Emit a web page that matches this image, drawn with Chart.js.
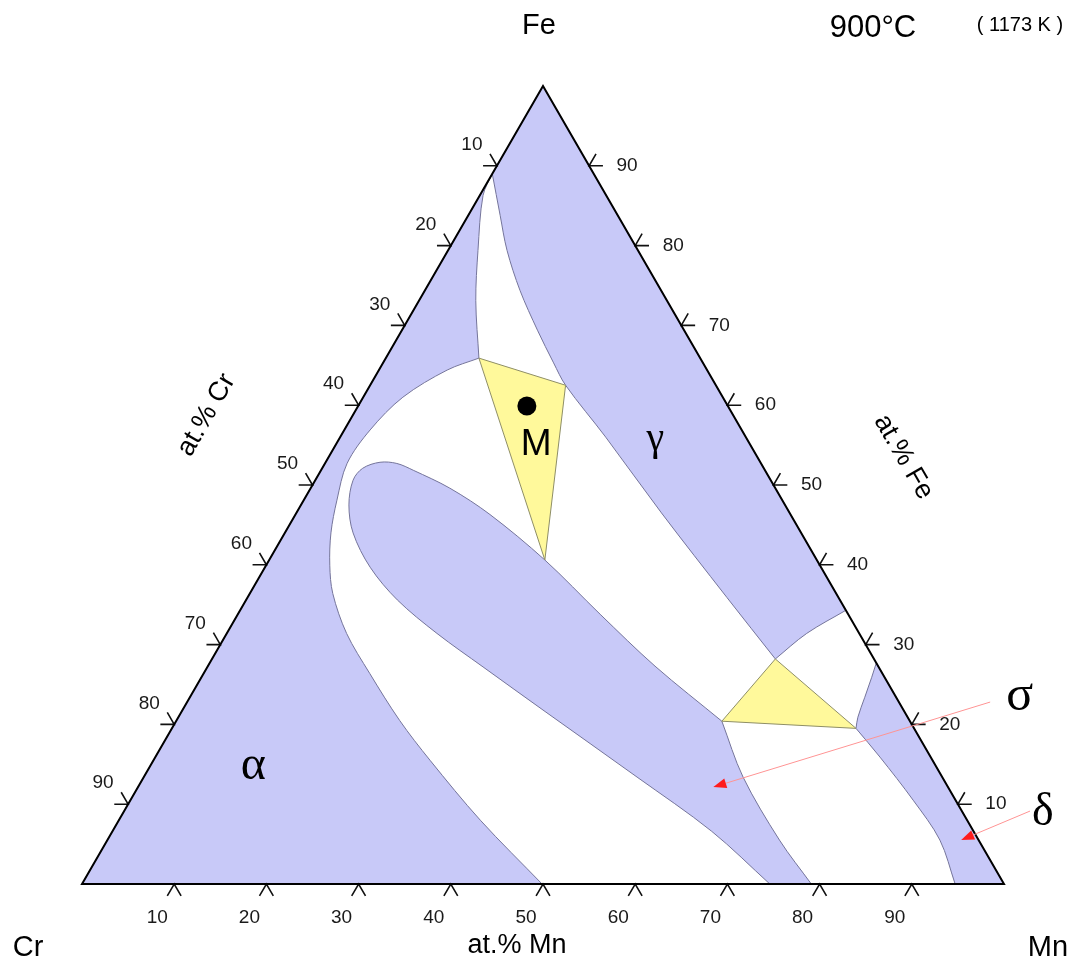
<!DOCTYPE html>
<html>
<head>
<meta charset="utf-8">
<title>Fe-Cr-Mn 900°C</title>
<script src="https://cdn.jsdelivr.net/npm/chart.js@4.4.1/dist/chart.umd.min.js"></script>
<style>
  html, body { margin: 0; padding: 0; background: #fff; }
  #wrap { width: 1080px; height: 973px; position: relative; }
</style>
</head>
<body>
<div id="wrap"><canvas id="ternario"></canvas></div>
<script>
const vertCr = [0, 0], vertMn = [100, 0], vertFe = [0, 100];
const tickValues = [10, 20, 30, 40, 50, 60, 70, 80, 90];

// contorno alfa (lado Cr)
const alphaTopo = [[0, 89.0], [0.35, 86.3], [3.25, 79.4], [6.16, 73.1], [10.1, 65.9]];
const alphaBaixo = [[10.1, 65.9], [7.4, 64.4], [4.3, 61.0], [2.8, 56.9], [2.4, 52.7], [3.6, 48.1], [5.0, 44.0], [6.9, 39.95], [9.0, 36.4], [13.0, 31.4], [18.0, 26.4], [24.2, 20.5], [30.0, 15.5], [39.2, 8.0], [49.9, 0]];
// contorno gama (lado Fe)
const gamaEsq = [[0, 89.0], [3.45, 83.8], [6.4, 79.4], [10.3, 74.4], [14.7, 69.4], [18.5, 65.3], [21.2, 62.5], [28.8, 56.0], [39.6, 46.5], [52.0, 35.9], [61.1, 28.2]];
const gamaBaixo = [[61.1, 28.2], [62.9, 31.4], [65.7, 34.3]];
// contorno sigma: borda inferior, ponta arredondada e borda superior até o triângulo de baixo
const sigmaContorno = [[74.6, 0], [65.0, 6.6], [53.5, 13.4], [39.1, 21.8], [29.9, 27.2], [22.8, 31.4], [16.4, 35.6], [11.4, 39.7], [7.4, 44.0], [5.2, 47.5], [4.1, 50.6], [4.4, 52.1], [5.9, 52.85], [7.8, 52.7], [10.0, 51.85], [15.1, 49.6], [21.1, 46.3], [29.9, 40.6], [39.3, 33.8], [48.5, 27.3], [59.2, 20.4]];
const sigmaDireita = [[59.2, 20.4], [65.0, 13.4], [72.9, 5.5], [79.1, 0]];
// contorno delta (lado Mn)
const deltaCima = [[72.3, 27.7], [72.7, 25.9], [73.2, 23.4], [73.7, 20.9], [74.2, 19.5]];
const deltaBaixo = [[74.2, 19.5], [78.6, 15.9], [84.9, 10.5], [90.3, 5.5], [94.7, 0]];
// regiões trifásicas
const triangulo1 = [[10.1, 65.9], [21.2, 62.5], [29.9, 40.6]];
const triangulo2 = [[61.1, 28.2], [74.2, 19.5], [59.2, 20.4]];
const pontoM = [18.3, 59.9];

// posições dos rótulos (mesmas coordenadas de composição)
const rotulosFase = [
  { texto: 'α', pos: [12.0, 13.15], fonte: '48px "Liberation Serif", serif' },
  { texto: 'γ', pos: [35.0, 54.35], fonte: '40px "Liberation Serif", serif' },
  { texto: 'σ', pos: [90.8, 21.8], fonte: '50px "Liberation Serif", serif' },
  { texto: 'δ', pos: [100.5, 7.4], fonte: '46px "Liberation Serif", serif' },
  { texto: 'M', pos: [22.4, 53.7], fonte: '37px "Liberation Sans", Arial, sans-serif' }
];
const setas = [
  { de: [87.1, 22.8], para: [62.4, 12.15] },
  { de: [98.25, 9.14], para: [92.6, 5.51] }
];

const raiz3 = Math.sqrt(3) / 2;
const paraXY = ([mn, fe]) => ({ x: mn + fe / 2, y: fe * raiz3 });
const rev = (a) => a.slice().reverse();
const poligono = (...partes) => partes.flat().map(paraXY);

const corFase = '#c8c9f8';
const corTrifasico = '#fff99b';
const corContorno = '#74749a';

const regiao = (label, pontos, cor, borda, tensao) => ({
  label, data: pontos, showLine: true, fill: 'shape', backgroundColor: cor,
  borderColor: borda, borderWidth: 1, tension: tensao, pointRadius: 0
});

// marcas dos eixos: prolongamento das duas linhas de grade em cada ponto
const L = 1.5;
const marcas = [];
tickValues.forEach(v => {
  marcas.push(paraXY([v, -L]), paraXY([v, 0]), paraXY([v + L, -L]), { x: null, y: null });
  marcas.push(paraXY([-L, 100 - v]), paraXY([0, 100 - v]), paraXY([-L, 100 - v + L]), { x: null, y: null });
  marcas.push(paraXY([100 - v + L, v]), paraXY([100 - v, v]), paraXY([100 - v, v + L]), { x: null, y: null });
});

const textos = {
  id: 'textos',
  afterDatasetsDraw(chart) {
    const { ctx, scales: { x, y } } = chart;
    const px = (c) => { const p = paraXY(c); return { x: x.getPixelForValue(p.x), y: y.getPixelForValue(p.y) }; };
    ctx.save();
    ctx.fillStyle = '#1a1a1a';
    ctx.textAlign = 'center';
    ctx.textBaseline = 'middle';
    ctx.font = '19px "Liberation Sans", Arial, sans-serif';
    tickValues.forEach(v => {
      let p = px([v, 0]);
      ctx.fillText(String(v), p.x - 17, p.y + 34);
      p = px([0, 100 - v]);
      ctx.fillText(String(v), p.x - 25, p.y - 21);
      p = px([100 - v, v]);
      ctx.fillText(String(v), p.x + 38, p.y);
    });

    ctx.fillStyle = '#000';
    ctx.font = '29px "Liberation Sans", Arial, sans-serif';
    const cr = px(vertCr), mn = px(vertMn), fe = px(vertFe);
    ctx.fillText('Fe', fe.x - 4, fe.y - 60);
    ctx.fillText('Cr', cr.x - 54, cr.y + 64);
    ctx.fillText('Mn', mn.x + 44, mn.y + 64);

    ctx.font = '27px "Liberation Sans", Arial, sans-serif';
    ctx.fillText('at.% Mn', (cr.x + mn.x) / 2 - 26, cr.y + 62);
    ctx.save();
    ctx.translate((cr.x + fe.x) / 2 - 106, (cr.y + fe.y) / 2 - 70);
    ctx.rotate(-Math.PI / 3);
    ctx.fillText('at.% Cr', 0, 0);
    ctx.restore();
    ctx.save();
    ctx.translate((mn.x + fe.x) / 2 + 130, (mn.y + fe.y) / 2 - 28);
    ctx.rotate(Math.PI / 3);
    ctx.fillText('at.% Fe', 0, 0);
    ctx.restore();

    ctx.font = '31px "Liberation Sans", Arial, sans-serif';
    ctx.fillText('900°C', 873, 28);
    ctx.font = '20px "Liberation Sans", Arial, sans-serif';
    ctx.fillText('( 1173 K )', 1020, 25);

    ctx.textBaseline = 'alphabetic';
    rotulosFase.forEach(r => {
      const p = px(r.pos);
      ctx.font = r.fonte;
      ctx.fillText(r.texto, p.x, p.y);
    });

    setas.forEach(s => {
      const a = px(s.de), b = px(s.para);
      const ang = Math.atan2(b.y - a.y, b.x - a.x);
      const c = 13, w = 5;
      const bx = b.x - c * Math.cos(ang), by = b.y - c * Math.sin(ang);
      ctx.strokeStyle = '#ff9494';
      ctx.lineWidth = 1;
      ctx.beginPath();
      ctx.moveTo(a.x, a.y);
      ctx.lineTo(bx, by);
      ctx.stroke();
      ctx.fillStyle = '#ff1c1c';
      ctx.beginPath();
      ctx.moveTo(b.x, b.y);
      ctx.lineTo(bx + w * Math.sin(ang), by - w * Math.cos(ang));
      ctx.lineTo(bx - w * Math.sin(ang), by + w * Math.cos(ang));
      ctx.closePath();
      ctx.fill();
    });
    ctx.restore();
  }
};

new Chart(document.getElementById('ternario'), {
  type: 'scatter',
  data: {
    datasets: [
      { label: 'contorno', data: [vertCr, vertMn, vertFe, vertCr, vertMn].map(paraXY), showLine: true, fill: false,
        borderColor: '#000', borderWidth: 2, tension: 0, pointRadius: 0, clip: false },
      { label: 'marcas', data: marcas, showLine: true, fill: false, spanGaps: false,
        borderColor: '#111', borderWidth: 1.6, tension: 0, pointRadius: 0, clip: false },
      { label: 'M', data: [paraXY(pontoM)], showLine: false, pointRadius: 9.5, pointBackgroundColor: '#000', pointBorderWidth: 0 },
      regiao('α+γ+σ', poligono(triangulo1, [triangulo1[0]]), corTrifasico, '#8e8e66', 0),
      regiao('γ+σ+δ', poligono(triangulo2, [triangulo2[0]]), corTrifasico, '#8e8e66', 0),
      regiao('α', poligono([vertCr, alphaTopo[0]], alphaTopo, alphaBaixo, [[49.9, 0], vertCr]), corFase, corContorno, 0.33),
      regiao('γ', poligono([gamaEsq[0], vertFe], [vertFe, [65.7, 34.3]], rev(gamaBaixo), rev(gamaEsq)), corFase, corContorno, 0.33),
      regiao('σ', poligono(sigmaContorno, sigmaDireita, [[79.1, 0], [74.6, 0]]), corFase, corContorno, 0.33),
      regiao('δ', poligono([[72.3, 27.7], vertMn], [vertMn, [94.7, 0]], rev(deltaBaixo), rev(deltaCima)), corFase, corContorno, 0.33)
    ]
  },
  options: {
    responsive: true, maintainAspectRatio: false, animation: false, events: [],
    layout: { padding: { left: 82, right: 76, top: 86, bottom: 89 } },
    plugins: { legend: { display: false }, tooltip: { enabled: false }, title: { display: false } },
    scales: {
      x: { type: 'linear', min: 0, max: 100, display: false },
      y: { type: 'linear', min: 0, max: 100 * Math.sqrt(3) / 2, display: false }
    }
  },
  plugins: [textos]
});
</script>
</body>
</html>
